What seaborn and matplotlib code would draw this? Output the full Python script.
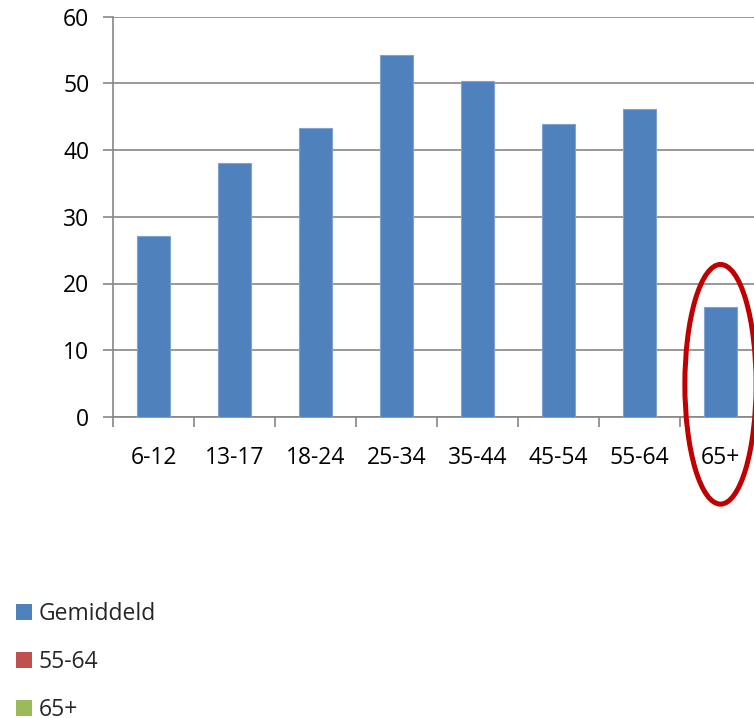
import matplotlib
matplotlib.use("Agg")
import matplotlib.pyplot as plt
import seaborn as sns
import pandas as pd
from matplotlib.patches import Ellipse, Patch

# ---- data ----
categories = ["6-12", "13-17", "18-24", "25-34", "35-44", "45-54", "55-64", "65+"]
values = [27.1, 38.0, 43.3, 54.2, 50.3, 43.9, 46.2, 16.5]
y_ticks = [0, 10, 20, 30, 40, 50, 60]
legend_labels = ["Gemiddeld", "55-64", "65+"]
legend_colors = ["#4F81BD", "#C0504D", "#9BBB59"]
highlight = "65+"

sns.set_theme(style="white")
plt.rcParams["font.family"] = ["Open Sans", "DejaVu Sans"]

W, H = 754, 718
fig = plt.figure(figsize=(W / 100, H / 100), dpi=100)
ax_left, ax_right, ax_top, ax_bot = 113, 761, 16.5, 417
ax = fig.add_axes([ax_left / W, (H - ax_bot) / H, (ax_right - ax_left) / W, (ax_bot - ax_top) / H])

df = pd.DataFrame({"cat": categories, "val": values})
sns.barplot(data=df, x="cat", y="val", color="#4F81BD", width=0.4, ax=ax,
            edgecolor="#7FA2CF", linewidth=0.8, saturation=1, zorder=3)

grid_c = "#868686"
fs = 16.5
ax.set_ylim(0, 60)
ax.set_xlim(-0.5, len(categories) - 0.5)
ax.set_yticks(y_ticks)
ax.yaxis.grid(True, color=grid_c, linewidth=1.2, zorder=0)
ax.set_axisbelow(True)
for s in ["top", "right"]:
    ax.spines[s].set_visible(False)
for s in ["left", "bottom"]:
    ax.spines[s].set_color(grid_c)
    ax.spines[s].set_linewidth(1.2)
ax.set_xlabel("")
ax.set_ylabel("")
ax.set_xticks([i - 0.5 for i in range(len(categories))], minor=False)
ax.set_xticklabels([])
ax.set_xticks(range(len(categories)), minor=True)
ax.set_xticklabels(categories, minor=True)
ax.tick_params(axis="x", which="major", length=7, width=1.2, color=grid_c, direction="out", bottom=True)
ax.tick_params(axis="x", which="minor", length=0, pad=21, labelsize=fs, labelcolor="black")
ax.tick_params(axis="y", length=7, width=1.2, color=grid_c, direction="out", left=True, pad=10,
               labelsize=fs, labelcolor="black")

# highlight ellipse around 65+
idx = categories.index(highlight)
ell = Ellipse((idx, 4.9), width=0.88, height=35.9, fill=False, edgecolor="#C00000",
              linewidth=3.6, clip_on=False, zorder=5)
ax.add_patch(ell)

handles = [Patch(facecolor=c, edgecolor="none") for c in legend_colors]
fig.legend(handles, legend_labels, loc="upper left", bbox_to_anchor=(16 / W, 1 - 602 / H),
           frameon=False, fontsize=fs, handlelength=0.68, handleheight=0.68,
           handletextpad=0.32, labelspacing=1.05, borderaxespad=0, borderpad=0)

fig.savefig("out.png", dpi=100)
